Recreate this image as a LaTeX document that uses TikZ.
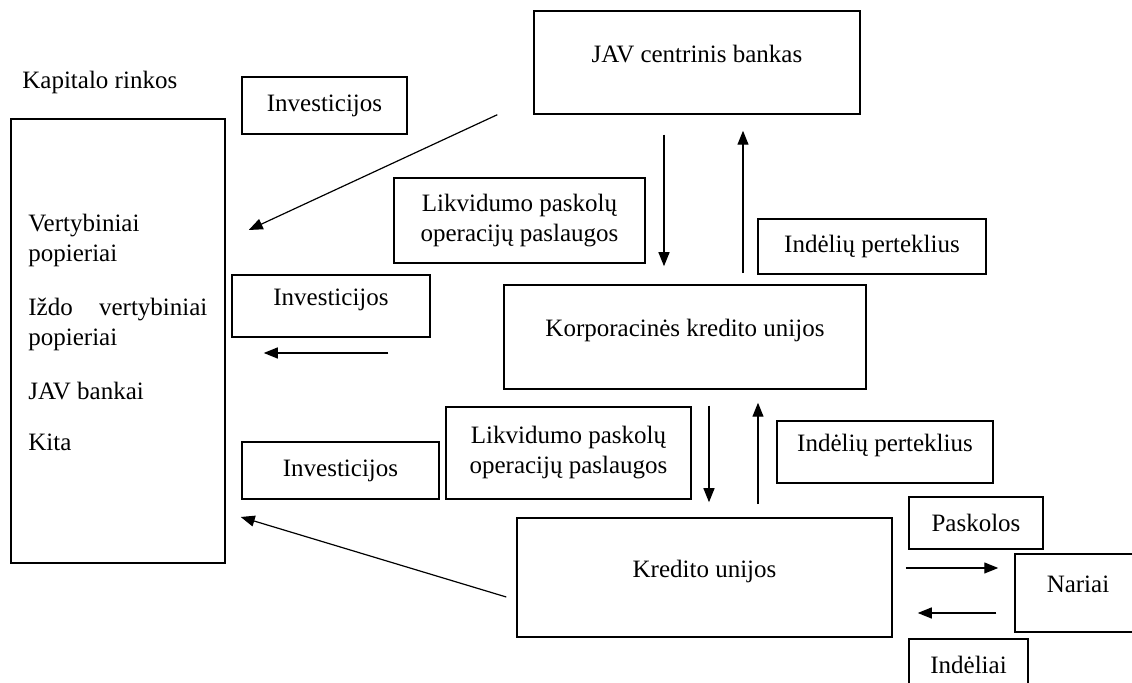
\documentclass[tikz,border=0pt]{standalone}
\usepackage{fontspec}
\setmainfont{Liberation Serif}
\usetikzlibrary{arrows.meta}

\begin{document}
\begin{tikzpicture}[x=0.5pt,y=-0.5pt,
    every node/.style={font=\fontsize{12.5}{15}\selectfont},
    box/.style={draw,line width=0.75pt,inner sep=0pt,align=center},
    toptext/.style={text height=9pt,text depth=9pt},
    arr/.style={line width=0.6pt,-{Triangle[length=7pt,width=5.5pt]}}]
      \useasboundingbox (0,0) rectangle (1132,683);
      \node[anchor=base west,inner sep=0pt] (kaptitle) at (22,89) {Kapitalo rinkos};
      \node[box,minimum width=107pt,minimum height=222pt] (rinkos) at (118,341) {};
      \node[anchor=north west,inner sep=0pt,text width=89.5pt,align=flush left] (rinkosturinys) at (28,214)
      {Vertybiniai\\popieriai\\[12pt]Iždo\hfill vertybiniai\\popieriai\\[12pt]JAV bankai\\[10.5pt]Kita};
      \node[box,minimum width=82.5pt,minimum height=28.5pt] (inv1) at (324.5,105.5) {Investicijos};
      \node[box,toptext,minimum width=163pt,minimum height=51.5pt] (jav) at (697,62.5) {JAV centrinis bankas};
      \node[box,minimum width=125.5pt,minimum height=42.5pt] (likv1) at (519.5,220.5) {Likvidumo paskolų\\operacijų paslaugos};
      \node[box,minimum width=114pt,minimum height=27.5pt] (pert1) at (872,246.5) {Indėlių perteklius};
      \node[box,toptext,minimum width=99pt,minimum height=31pt] (inv2) at (331,306) {Investicijos};
      \node[box,toptext,minimum width=181pt,minimum height=52pt] (korp) at (685,337) {Korporacinės kredito unijos};
      \node[box,minimum width=122.5pt,minimum height=46pt] (likv2) at (568.5,453) {Likvidumo paskolų\\operacijų paslaugos};
      \node[box,toptext,minimum width=108pt,minimum height=31pt] (pert2) at (885,452) {Indėlių perteklius};
      \node[box,minimum width=98.5pt,minimum height=28.5pt] (inv3) at (340.5,470.5) {Investicijos};
      \node[box,toptext,minimum width=187.5pt,minimum height=59.5pt] (kred) at (704.5,577.5) {Kredito unijos};
      \node[box,minimum width=67pt,minimum height=26pt] (pask) at (976,523) {Paskolos};
      \node[box,toptext,minimum width=63pt,minimum height=39pt] (nariai) at (1078,593) {Nariai};
      \node[box,minimum width=59.5pt,minimum height=26pt] (indel) at (968.5,665) {Indėliai};
      \draw[arr] ([xshift=-18pt]jav.south west) -- ([xshift=11.5pt,yshift=55.5pt]rinkos.east);
      \draw[arr] ([xshift=-16.5pt,yshift=-10pt]jav.south) -- ([xshift=-10.5pt,yshift=9pt]korp.north);
      \draw[arr] ([xshift=29pt,yshift=5.5pt]korp.north) -- ([xshift=23pt,yshift=-8pt]jav.south);
      \draw[arr] ([xshift=-57.5pt,yshift=-8pt]korp.west) -- ([xshift=19pt,yshift=-6pt]rinkos.east);
      \draw[arr] ([xshift=12pt,yshift=-8pt]korp.south) -- ([xshift=2.25pt,yshift=7.5pt]kred.north);
      \draw[arr] ([xshift=26.75pt,yshift=6.5pt]kred.north) -- ([xshift=36.5pt,yshift=-6.5pt]korp.south);
      \draw[arr] ([xshift=-5pt,yshift=-9.75pt]kred.west) -- ([xshift=7.5pt,yshift=-88pt]rinkos.east);
      \draw[arr] ([xshift=6.5pt,yshift=4.75pt]kred.east) -- ([xshift=-8pt,yshift=12.5pt]nariai.west);
      \draw[arr] ([xshift=-9pt,yshift=-10pt]nariai.west) -- ([xshift=12.5pt,yshift=-17.75pt]kred.east);
    \end{tikzpicture}
\end{document}
